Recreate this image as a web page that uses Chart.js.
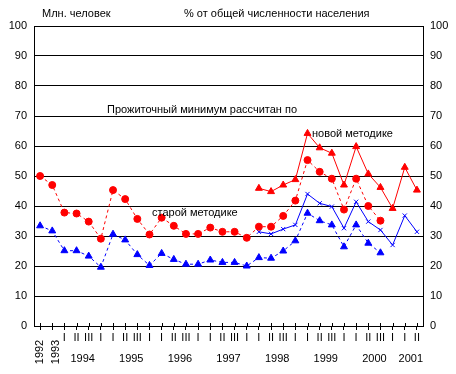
<!DOCTYPE html>
<html>
<head>
<meta charset="utf-8">
<script src="https://cdn.jsdelivr.net/npm/chart.js@4.4.0/dist/chart.umd.min.js"></script>
<style>
	html, body { margin: 0; padding: 0; background: #fff; }
	canvas { display: block; }
</style>
</head>
<body>
<canvas id="chart" width="456" height="374"></canvas>
<script>
	"use strict";
	// periods: annual for 1992-1993, quarterly afterwards
	var categories = ["1992", "1993",
		"1994 I", "1994 II", "1994 III", "1994 IV",
		"1995 I", "1995 II", "1995 III", "1995 IV",
		"1996 I", "1996 II", "1996 III", "1996 IV",
		"1997 I", "1997 II", "1997 III", "1997 IV",
		"1998 I", "1998 II", "1998 III", "1998 IV",
		"1999 I", "1999 II", "1999 III", "1999 IV",
		"2000 I", "2000 II", "2000 III", "2000 IV",
		"2001 I", "2001 II"];
	// quarter labels as printed under the axis (IV is cut to "I" in the original)
	var quarterTicks = ["", "", "I", "II", "III", "I", "I", "II", "III", "I", "I", "II", "III", "I",
		"I", "II", "III", "I", "I", "II", "III", "I", "I", "II", "III", "I", "I", "II", "III", "I", "I", "II"];
	var yTicks = [0, 10, 20, 30, 40, 50, 60, 70, 80, 90, 100];

	// Млн. человек, старая методика
	var millionsOld = [50.0, 47.0, 37.8, 37.5, 34.8, 29.1, 45.3, 42.3, 35.7, 30.5,
		36.1, 33.4, 30.7, 30.7, 32.8, 31.4, 31.4, 29.4, 33.1, 33.1,
		36.7, 41.8, 55.3, 51.4, 49.1, 38.8, 49.1, 40.0, 35.1, null, null, null];
	// Млн. человек, новая методика
	var millionsNew = [null, null, null, null, null, null, null, null, null, null,
		null, null, null, null, null, null, null, null, 45.9, 44.8,
		47.0, 48.8, 64.2, 59.4, 57.6, 47.0, 59.8, 50.7, 46.2, 39.2, 52.9, 45.3];
	// % от населения, старая методика
	var percentOld = [33.4, 31.7, 25.1, 25.1, 23.3, 19.6, 30.6, 28.7, 23.8, 20.2,
		24.2, 22.2, 20.6, 20.6, 22.0, 21.2, 21.2, 20.0, 22.8, 22.6,
		25.0, 28.4, 37.6, 35.1, 33.7, 26.4, 33.7, 27.6, 24.4, null, null, null];
	// % от населения, новая методика
	var percentNew = [null, null, null, null, null, null, null, null, null, null,
		null, null, null, null, null, null, null, null, 31.4, 30.7,
		32.3, 33.7, 44.0, 40.9, 39.8, 32.6, 41.4, 34.8, 32.0, 27.0, 36.8, 31.4];

	var FONT = "11px 'Liberation Sans', Arial, sans-serif";

	// x labels (quarters, years, rotated annual years), crossing tick marks and captions
	var decorPlugin = {
		id: "decor",
		afterDraw: function(chart) {
			var ctx = chart.ctx;
			var xs = chart.scales.x;
			var area = chart.chartArea;
			ctx.save();
			ctx.strokeStyle = "#000";
			ctx.lineWidth = 1;
			for (var i = 0; i < categories.length; i++) {
				var px = Math.round(xs.getPixelForValue(i)) + 0.5;
				ctx.beginPath();
				ctx.moveTo(px, area.bottom - 3);
				ctx.lineTo(px, area.bottom);
				ctx.stroke();
			}
			ctx.fillStyle = "#000";
			ctx.font = FONT;
			ctx.textBaseline = "middle";
			ctx.textAlign = "center";
			var groups = {};
			var order = [];
			for (var j = 0; j < categories.length; j++) {
				var parts = categories[j].split(" ");
				var x = xs.getPixelForValue(j);
				if (parts.length === 1) {
					ctx.save();
					ctx.translate(x + (j > 0 ? 4 : 0), 352);
					ctx.rotate(-Math.PI / 2);
					ctx.fillText(parts[0], 0, 0);
					ctx.restore();
					continue;
				}
				ctx.fillText(quarterTicks[j], x, 338);
				if (!groups[parts[0]]) {
					groups[parts[0]] = [];
					order.push(parts[0]);
				}
				groups[parts[0]].push(x);
			}
			order.forEach(function(year) {
				var g = groups[year];
				ctx.fillText(year, (g[0] + g[g.length - 1]) / 2, 359);
			});
			ctx.textAlign = "left";
			ctx.fillText("Млн. человек", 42, 14);
			ctx.fillText("% от общей численности населения", 184, 14);
			ctx.fillText("Прожиточный минимум рассчитан по", 107, 110);
			ctx.fillText("новой методике", 312, 134);
			ctx.fillText("старой методике", 152, 213);
			ctx.restore();
		}
	};

	var yAxis = function(position, width, grid) {
		return {
			position: position,
			min: 0,
			max: 100,
			afterBuildTicks: function(scale) {
				scale.ticks = yTicks.map(function(v) { return { value: v }; });
			},
			afterFit: function(scale) { scale.width = width; },
			ticks: { color: "#000", font: { family: "'Liberation Sans', Arial", size: 11 }, padding: 7 },
			grid: { display: grid, color: "#000", lineWidth: 1, drawTicks: false },
			border: { display: true, color: "#000", width: 1 }
		};
	};

	var ctx = document.getElementById("chart").getContext("2d");
	var chart = new Chart(ctx, {
		type: "line",
		data: {
			labels: categories,
			datasets: [{
				label: "millionsOld",
				data: millionsOld,
				yAxisID: "y",
				borderColor: "#ff0000",
				backgroundColor: "#ff0000",
				borderWidth: 1,
				borderDash: [3, 3],
				pointStyle: "circle",
				pointRadius: 3.5,
				pointBorderWidth: 1
			}, {
				label: "millionsNew",
				data: millionsNew,
				yAxisID: "y",
				borderColor: "#ff0000",
				backgroundColor: "#ff0000",
				borderWidth: 1,
				pointStyle: "triangle",
				pointRadius: 4,
				pointBorderWidth: 1
			}, {
				label: "percentOld",
				data: percentOld,
				yAxisID: "y",
				borderColor: "#0000ff",
				backgroundColor: "#0000ff",
				borderWidth: 1,
				borderDash: [3, 3],
				pointStyle: "triangle",
				pointRadius: 4,
				pointBorderWidth: 1
			}, {
				label: "percentNew",
				data: percentNew,
				yAxisID: "y",
				borderColor: "#0000ff",
				backgroundColor: "#0000ff",
				borderWidth: 1,
				pointStyle: "crossRot",
				pointRadius: 3,
				pointBorderWidth: 1
			}]
		},
		options: {
			responsive: false,
			animation: false,
			devicePixelRatio: 1,
			spanGaps: false,
			layout: { padding: { top: 26, left: 0, right: 0, bottom: 0 } },
			plugins: { legend: { display: false }, tooltip: { enabled: false } },
			scales: {
				x: {
					type: "category",
					offset: true,
					afterFit: function(scale) { scale.height = 48; },
					ticks: { display: false },
					grid: { display: true, offset: false, drawOnChartArea: false, color: "#000", tickLength: 4 },
					border: { display: true, color: "#000", width: 1 }
				},
				y: yAxis("left", 34, true),
				y2: yAxis("right", 33, false)
			}
		},
		plugins: [decorPlugin]
	});
</script>
</body>
</html>
